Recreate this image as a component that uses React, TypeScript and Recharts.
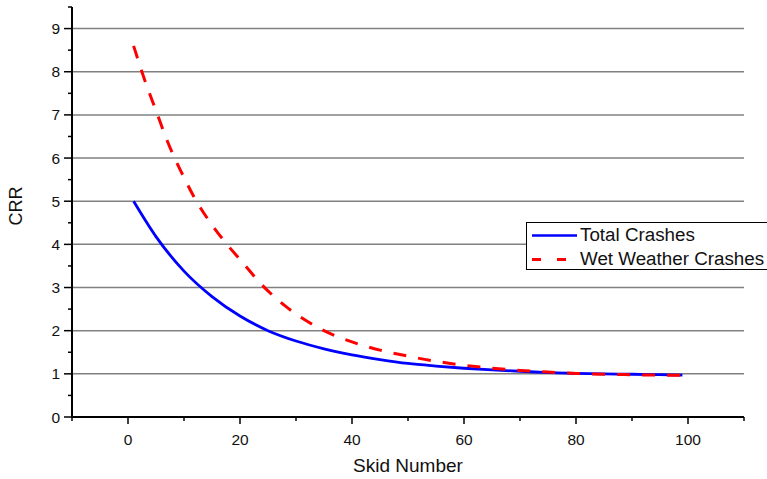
import React from 'react';
import { LineChart, Line, XAxis, YAxis, ReferenceLine, Legend } from 'recharts';

const skidTotal = [1, 5, 10, 15, 20, 25, 30, 35, 40, 45, 50, 55, 60, 65, 70, 75, 80, 85, 90, 95, 99];
const totalCrashes = [5.0, 4.18, 3.38, 2.79, 2.34, 2.0, 1.76, 1.58, 1.44, 1.33, 1.24, 1.18, 1.13, 1.09, 1.06, 1.03, 1.01, 1.0, 0.99, 0.98, 0.97];

const skidWet = [1, 3, 5, 7, 10, 12, 15, 18, 20, 24, 28, 32, 35, 40, 45, 50, 55, 60, 65, 70, 75, 80, 85, 90, 95, 99];
const wetCrashes = [8.6, 7.8, 7.1, 6.4, 5.55, 5.05, 4.45, 3.95, 3.65, 3.05, 2.58, 2.22, 2.0, 1.74, 1.55, 1.41, 1.29, 1.2, 1.13, 1.08, 1.04, 1.01, 0.99, 0.98, 0.97, 0.97];

const xTicks = [-10, 0, 10, 20, 30, 40, 50, 60, 70, 80, 90, 100, 110];
const xLabels = [0, 20, 40, 60, 80, 100];
const yTicks = [0, 0.5, 1, 1.5, 2, 2.5, 3, 3.5, 4, 4.5, 5, 5.5, 6, 6.5, 7, 7.5, 8, 8.5, 9, 9.5];
const yLabels = [0, 1, 2, 3, 4, 5, 6, 7, 8, 9];
const gridValues = [1, 2, 3, 4, 5, 6, 7, 8, 9];

const seriesNames = ['Total Crashes', 'Wet Weather Crashes'];

const totalData = skidTotal.map((x, i) => ({ x, y: totalCrashes[i] }));
const wetData = skidWet.map((x, i) => ({ x, y: wetCrashes[i] }));

const FONT = '"Liberation Sans", Arial, sans-serif';

const XTick = (props: any) => {
  const { x, y, payload } = props;
  const v = payload.value;
  const major = xLabels.includes(v);
  return (
    <g>
      <line x1={x} x2={x} y1={y} y2={y + (major ? 7 : 4)} stroke="#000" strokeWidth={1.5} />
      {major && (
        <text x={x} y={y + 28} textAnchor="middle" fontSize={15.5} fontFamily={FONT} fill="#111">
          {v}
        </text>
      )}
    </g>
  );
};

const YTick = (props: any) => {
  const { x, y, payload } = props;
  const v = payload.value;
  const major = yLabels.includes(v);
  return (
    <g>
      <line x1={x - (major ? 8 : 4)} x2={x} y1={y} y2={y} stroke="#000" strokeWidth={1.5} />
      {major && (
        <text x={x - 12} y={y + 5.5} textAnchor="end" fontSize={15.5} fontFamily={FONT} fill="#111">
          {v}
        </text>
      )}
    </g>
  );
};

const LegendBox = () => (
  <div
    style={{
      position: 'absolute',
      left: 526,
      top: 222,
      width: 270,
      height: 48,
      border: '1px solid #000',
      background: '#fff',
      fontFamily: FONT,
      fontSize: 18.8,
      color: '#111',
      boxSizing: 'border-box',
    }}
  >
    <svg width={50} height={48} style={{ position: 'absolute', left: 0, top: 0 }}>
      <line x1={5} x2={50} y1={12.5} y2={12.5} stroke="#0000ff" strokeWidth={2.5} />
      <line x1={5} x2={50} y1={36.5} y2={36.5} stroke="#ff0000" strokeWidth={3} strokeDasharray="9 16" />
    </svg>
    <div style={{ position: 'absolute', left: 53, top: 1, lineHeight: '22px', whiteSpace: 'nowrap' }}>{seriesNames[0]}</div>
    <div style={{ position: 'absolute', left: 53, top: 25, lineHeight: '22px', whiteSpace: 'nowrap' }}>{seriesNames[1]}</div>
  </div>
);

export default function App() {
  return (
    <div style={{ position: 'absolute', left: 0, top: 0, width: 767, height: 479, overflow: 'hidden', background: '#fff' }}>
      <LineChart width={767} height={479} margin={{ top: 7, right: 23, bottom: 0, left: 0 }}>
        <XAxis
          dataKey="x"
          type="number"
          domain={[-10, 110]}
          ticks={xTicks}
          interval={0}
          allowDataOverflow
          height={62}
          tickSize={0}
          tickMargin={0}
          tickLine={false}
          tick={<XTick />}
          axisLine={{ stroke: '#000', strokeWidth: 2 }}
          label={{
            content: () => (
              <text x={408} y={472} textAnchor="middle" fontSize={19} fontFamily={FONT} fill="#111">
                Skid Number
              </text>
            ),
          }}
        />
        <YAxis
          dataKey="y"
          type="number"
          domain={[0, 9.5]}
          ticks={yTicks}
          interval={0}
          allowDataOverflow
          width={72}
          tickSize={0}
          tickMargin={0}
          tickLine={false}
          tick={<YTick />}
          axisLine={{ stroke: '#000', strokeWidth: 2 }}
          label={{
            content: () => (
              <text x={22} y={206} textAnchor="middle" fontSize={18} fontFamily={FONT} fill="#111" transform="rotate(-90 22 206)">
                CRR
              </text>
            ),
          }}
        />
        {gridValues.map((g) => (
          <ReferenceLine key={g} y={g} stroke="#808080" strokeWidth={1.5} />
        ))}
        <Line
          data={totalData}
          dataKey="y"
          name={seriesNames[0]}
          type="monotone"
          stroke="#0000ff"
          strokeWidth={2.8}
          dot={false}
          isAnimationActive={false}
        />
        <Line
          data={wetData}
          dataKey="y"
          name={seriesNames[1]}
          type="monotone"
          stroke="#ff0000"
          strokeWidth={3}
          strokeDasharray="13 12"
          dot={false}
          isAnimationActive={false}
        />
        <Legend content={() => null} />
      </LineChart>
      <LegendBox />
    </div>
  );
}
